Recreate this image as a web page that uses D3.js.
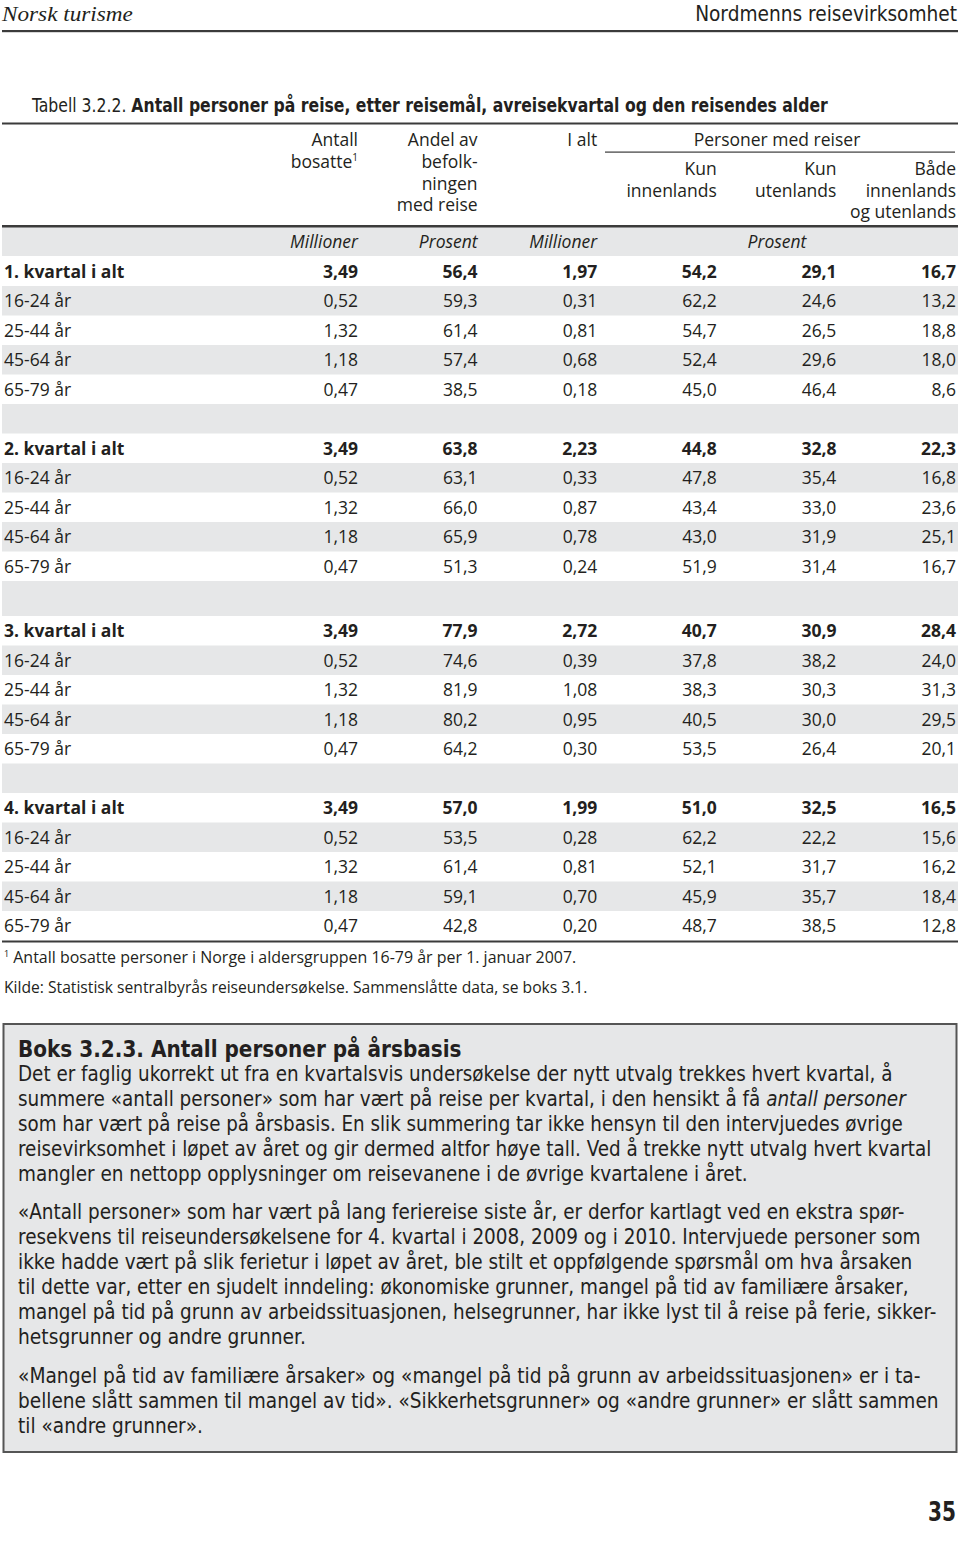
<!DOCTYPE html>
<html><head><meta charset="utf-8">
<script src="https://cdn.jsdelivr.net/npm/d3@7"></script>
<style>
html,body{margin:0;padding:0;background:#fff;}
svg{display:block;}
</style></head>
<body>
<svg id="chart" width="960" height="1545"></svg>
<script>
// ---------- DATA ----------
const quarterLabels = ["1. kvartal i alt","2. kvartal i alt","3. kvartal i alt","4. kvartal i alt"];
const ageLabels = ["16-24 år","25-44 år","45-64 år","65-79 år"];
const colUnits = ["Millioner","Prosent","Millioner","Prosent"];
// per quarter: [total, 16-24, 25-44, 45-64, 65-79]
const antallBosatte = [
  [3.49,0.52,1.32,1.18,0.47],[3.49,0.52,1.32,1.18,0.47],
  [3.49,0.52,1.32,1.18,0.47],[3.49,0.52,1.32,1.18,0.47]];
const andelMedReise = [
  [56.4,59.3,61.4,57.4,38.5],[63.8,63.1,66.0,65.9,51.3],
  [77.9,74.6,81.9,80.2,64.2],[57.0,53.5,61.4,59.1,42.8]];
const iAlt = [
  [1.97,0.31,0.81,0.68,0.18],[2.23,0.33,0.87,0.78,0.24],
  [2.72,0.39,1.08,0.95,0.30],[1.99,0.28,0.81,0.70,0.20]];
const kunInnenlands = [
  [54.2,62.2,54.7,52.4,45.0],[44.8,47.8,43.4,43.0,51.9],
  [40.7,37.8,38.3,40.5,53.5],[51.0,62.2,52.1,45.9,48.7]];
const kunUtenlands = [
  [29.1,24.6,26.5,29.6,46.4],[32.8,35.4,33.0,31.9,31.4],
  [30.9,38.2,30.3,30.0,26.4],[32.5,22.2,31.7,35.7,38.5]];
const baade = [
  [16.7,13.2,18.8,18.0,8.6],[22.3,16.8,23.6,25.1,16.7],
  [28.4,24.0,31.3,29.5,20.1],[16.5,15.6,16.2,18.4,12.8]];

const footnote = "Antall bosatte personer i Norge i aldersgruppen 16-79 år per 1. januar 2007.";
const source = "Kilde: Statistisk sentralbyrås reiseundersøkelse. Sammenslåtte data, se boks 3.1.";
const boxTitle = "Boks 3.2.3. Antall personer på årsbasis";
const boxParagraphs = [
 [
  [["Det er faglig ukorrekt ut fra en kvartalsvis undersøkelse der nytt utvalg trekkes hvert kvartal, å"]],
  [["summere «antall personer» som har vært på reise per kvartal, i den hensikt å få "],["antall personer","i"]],
  [["som har vært på reise på årsbasis. En slik summering tar ikke hensyn til den intervjuedes øvrige"]],
  [["reisevirksomhet i løpet av året og gir dermed altfor høye tall. Ved å trekke nytt utvalg hvert kvartal"]],
  [["mangler en nettopp opplysninger om reisevanene i de øvrige kvartalene i året."]]
 ],
 [
  [["«Antall personer» som har vært på lang feriereise siste år, er derfor kartlagt ved en ekstra spør-"]],
  [["resekvens til reiseundersøkelsene for 4. kvartal i 2008, 2009 og i 2010. Intervjuede personer som"]],
  [["ikke hadde vært på slik ferietur i løpet av året, ble stilt et oppfølgende spørsmål om hva årsaken"]],
  [["til dette var, etter en sjudelt inndeling: økonomiske grunner, mangel på tid av familiære årsaker,"]],
  [["mangel på tid på grunn av arbeidssituasjonen, helsegrunner, har ikke lyst til å reise på ferie, sikker-"]],
  [["hetsgrunner og andre grunner."]]
 ],
 [
  [["«Mangel på tid av familiære årsaker» og «mangel på tid på grunn av arbeidssituasjonen» er i ta-"]],
  [["bellene slått sammen til mangel av tid». «Sikkerhetsgrunner» og «andre grunner» er slått sammen"]],
  [["til «andre grunner»."]]
 ]
];

// ---------- LAYOUT ----------
const svg = d3.select("#chart");
const INK = "#231f20", GREY = "#e6e7e8", RULE = "#3b3b3b";
const SANS = "'Open Sans','Noto Sans',sans-serif";
const COND = "'Liberation Sans Narrow','DejaVu Sans Condensed','Open Sans',sans-serif";
const nb = d3.formatLocale({decimal:",",thousands:" ",grouping:[3],currency:["","kr"]});
const f2 = nb.format(".2f"), f1 = nb.format(".1f");

// place a text at (x,y) and squeeze it horizontally to a target width
function fitted(x, y, width, anchor){
  const t = svg.append("text").attr("x",0).attr("y",0).attr("text-anchor",anchor||"start");
  t.fit = function(){
    const w = t.node().getComputedTextLength();
    const s = w>0 ? width/w : 1;
    t.attr("transform",`translate(${x},${y}) scale(${s},1)`);
    return t;
  };
  return t;
}

// page header
fitted(2,21,131).attr("font-family","'Liberation Serif','DejaVu Serif',serif")
  .attr("font-style","italic").attr("font-size",21).attr("fill",INK).text("Norsk turisme").fit();
fitted(957,21,262,"end").attr("font-family",COND)
  .attr("font-size",21).attr("fill",INK).text("Nordmenns reisevirksomhet").fit();
svg.append("rect").attr("x",2).attr("y",30).attr("width",956).attr("height",2.2).attr("fill",RULE);

// title
const title = fitted(32,112,796).attr("font-family",COND).attr("font-size",20).attr("fill",INK);
title.append("tspan").text("Tabell 3.2.2. ");
title.append("tspan").attr("font-weight","bold").text("Antall personer på reise, etter reisemål, avreisekvartal og den reisendes alder");
title.fit();
svg.append("rect").attr("x",2).attr("y",122.5).attr("width",956).attr("height",2).attr("fill",RULE);

// column scale (right edges of numeric columns)
const x = d3.scaleLinear().domain([0,5]).range([358,956]);
const FS = 17.5;

// header texts
const head = svg.append("g").attr("font-family",SANS).attr("font-size",FS).attr("fill",INK).attr("text-anchor","end");
function hlines(col, lines, y0, dy){
  lines.forEach((l,i)=>head.append("text").attr("x",x(col)).attr("y",y0+i*dy).text(l));
}
const bos = head.append("text").attr("x",x(0)).attr("y",168);
bos.append("tspan").text("bosatte");
bos.append("tspan").attr("font-size",10).attr("dy",-7).text("1");
head.append("text").attr("x",x(0)).attr("y",146).text("Antall");
hlines(1,["Andel av","befolk-","ningen","med reise"],146,21.8);
hlines(2,["I alt"],146,22);
head.append("text").attr("x",777).attr("y",146).attr("text-anchor","middle").text("Personer med reiser");
svg.append("rect").attr("x",605).attr("y",151.5).attr("width",350).attr("height",1.2).attr("fill",RULE);
hlines(3,["Kun","innenlands"],175,21.5);
hlines(4,["Kun","utenlands"],175,21.5);
hlines(5,["Både","innenlands","og utenlands"],175,21.5);

// units band
svg.append("rect").attr("x",2).attr("y",226).attr("width",956).attr("height",30).attr("fill",GREY);
svg.append("rect").attr("x",2).attr("y",225).attr("width",956).attr("height",2.5).attr("fill",RULE);
const units = svg.append("g").attr("font-family",SANS).attr("font-size",FS).attr("font-style","italic").attr("fill",INK);
colUnits.slice(0,3).forEach((u,i)=>units.append("text").attr("x",x(i)).attr("y",248).attr("text-anchor","end").text(u));
units.append("text").attr("x",777).attr("y",248).attr("text-anchor","middle").text(colUnits[3]);

// rows
const ROWH = 29.5;
const spacers = [29.5, 35, 29.5];
const rows = [];
let yCur = 256.5;
quarterLabels.forEach((q,qi)=>{
  const cols = [antallBosatte,andelMedReise,iAlt,kunInnenlands,kunUtenlands,baade].map(a=>a[qi]);
  for(let r=0;r<5;r++){
    rows.push({label: r===0?q:ageLabels[r-1], bold:r===0, vals:cols.map(c=>c[r]), y:yCur, h:ROWH, grey:r%2===1});
    yCur += ROWH;
  }
  if(qi<3){ rows.push({spacer:true,y:yCur,h:spacers[qi],grey:true}); yCur += spacers[qi]; }
});
const tableBottom = yCur;

const rg = svg.append("g");
rg.selectAll("rect.band").data(rows.filter(d=>d.grey)).join("rect")
  .attr("x",2).attr("width",956).attr("y",d=>d.y).attr("height",d=>d.h).attr("fill",GREY);
const dataRows = rows.filter(d=>!d.spacer);
const rowG = rg.selectAll("g.row").data(dataRows).join("g")
  .attr("font-family",SANS).attr("font-size",FS).attr("fill",INK)
  .attr("font-weight",d=>d.bold?"bold":"normal");
rowG.append("text").attr("x",4).attr("y",d=>d.y+21).text(d=>d.label);
rowG.selectAll("text.v").data(d=>d.vals.map((v,i)=>({v,i,y:d.y}))).join("text")
  .attr("x",d=>x(d.i)).attr("y",d=>d.y+21).attr("text-anchor","end")
  .text(d=>(d.i===0||d.i===2)?f2(d.v):f1(d.v));
svg.append("rect").attr("x",2).attr("y",tableBottom).attr("width",956).attr("height",2).attr("fill",RULE);

// footnotes
const fn = fitted(4,963,573).attr("font-family",SANS).attr("font-size",16).attr("fill",INK);
fn.append("tspan").attr("font-size",9).attr("dy",-6).text("1");
fn.append("tspan").attr("dy",6).text(" "+footnote);
fn.fit();
fitted(4,993,584).attr("font-family",SANS).attr("font-size",16).attr("fill",INK).text(source).fit();

// box
svg.append("rect").attr("x",3.5).attr("y",1024).attr("width",953).attr("height",428)
  .attr("fill",GREY).attr("stroke","#555").attr("stroke-width",2);
fitted(18,1057,444).attr("font-family",COND).attr("font-weight","bold")
  .attr("font-size",22.5).attr("fill",INK).text(boxTitle).fit();
const lineEnds = [[893,906,903,932,748],[905,921,913,909,937,306],[921,939,203]];
const paraStart = [1081,1219,1383];
const LH = 24.9;
boxParagraphs.forEach((p,pi)=>{
  p.forEach((line,li)=>{
    const t = fitted(18,paraStart[pi]+li*LH,lineEnds[pi][li]-18)
      .attr("font-family",COND).attr("font-size",21).attr("fill",INK);
    line.forEach(seg=>{
      const s=t.append("tspan").text(seg[0]);
      if(seg[1]==="i") s.attr("font-style","italic");
    });
    t.fit();
  });
});

// page number
fitted(956,1521,28,"end").attr("font-family",COND)
  .attr("font-weight","bold").attr("font-size",26).attr("fill",INK).text("35").fit();
</script>
</body></html>
